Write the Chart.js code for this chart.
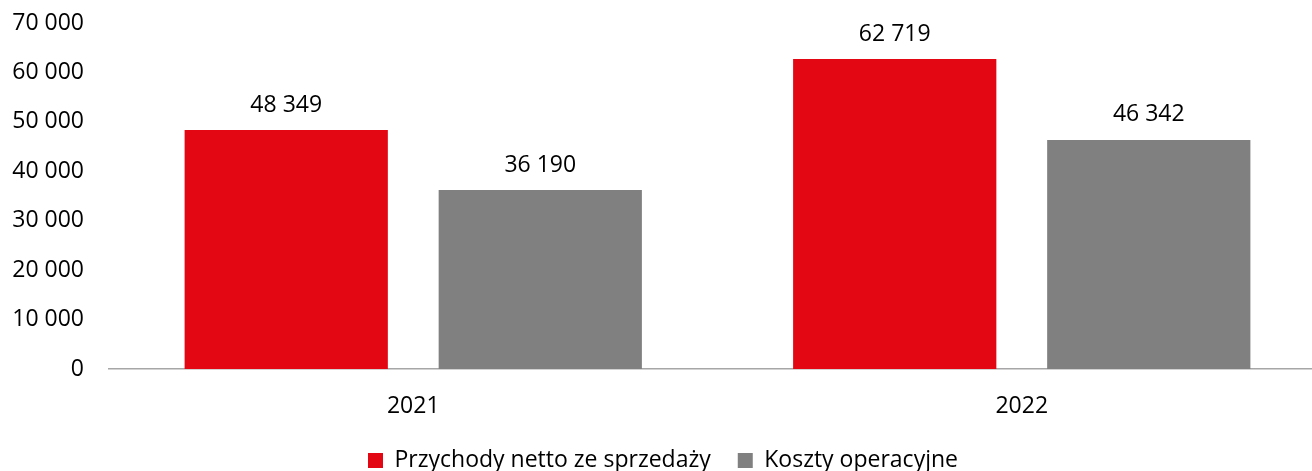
<!DOCTYPE html>
<html>
<head>
<meta charset="utf-8">
<script src="https://cdn.jsdelivr.net/npm/chart.js@4"></script>
<style>
  html, body { margin: 0; padding: 0; background: #fff; overflow: hidden; }
  #wrap { width: 1326px; height: 471px; }
</style>
</head>
<body>
<div id="wrap"><canvas id="myChart"></canvas></div>
<script>
const years = ['2021', '2022'];
const revenue = [48349, 62719];
const opCosts = [36190, 46342];
const yTicks = [0, 10000, 20000, 30000, 40000, 50000, 60000, 70000];

const fmt = v => String(v).replace(/\B(?=(\d{3})+(?!\d))/g, ' ');
const FONT = "'Open Sans', sans-serif";

// value labels above the bars
const barLabels = {
    id: 'barLabels',
    afterDatasetsDraw(chart) {
        const ctx = chart.ctx;
        ctx.save();
        ctx.font = '23px ' + FONT;
        ctx.fillStyle = '#000';
        ctx.textAlign = 'center';
        ctx.textBaseline = 'middle';
        chart.data.datasets.forEach((ds, i) => {
            chart.getDatasetMeta(i).data.forEach((bar, j) => {
                ctx.fillText(fmt(ds.data[j]), bar.x, bar.y - 25);
            });
        });
        ctx.restore();
    }
};

new Chart(document.getElementById('myChart'), {
    type: 'bar',
    data: {
        labels: years,
        datasets: [{
            label: 'Przychody netto ze sprzedaży',
            data: revenue,
            backgroundColor: '#E30613'
        }, {
            label: 'Koszty operacyjne',
            data: opCosts,
            backgroundColor: '#808080'
        }]
    },
    options: {
        responsive: true,
        maintainAspectRatio: false,
        animation: false,
        datasets: {
            bar: { categoryPercentage: 0.835, barPercentage: 0.8 }
        },
        layout: { padding: { top: 0, left: 0, right: 0, bottom: -11 } },
        scales: {
            x: {
                afterFit: axis => { axis.height = 53; },
                grid: { display: false, drawTicks: false },
                border: { color: '#A6A6A6', width: 1.5 },
                ticks: { color: '#000', font: { family: FONT, size: 23 }, padding: 24 }
            },
            y: {
                min: 0,
                max: 70000,
                afterBuildTicks: axis => { axis.ticks = yTicks.map(v => ({ value: v })); },
                afterFit: axis => {
                    axis.width = 109;
                    axis.paddingTop = 23;
                    axis.paddingBottom = 0;
                },
                grid: { display: false, drawTicks: false },
                border: { display: false },
                ticks: {
                    color: '#000',
                    font: { family: FONT, size: 23 },
                    padding: 25,
                    callback: v => fmt(v)
                }
            }
        },
        plugins: {
            legend: {
                position: 'bottom',
                labels: {
                    color: '#000',
                    font: { family: FONT, size: 23 },
                    boxWidth: 15,
                    boxHeight: 15,
                    padding: 27
                }
            },
            tooltip: { enabled: false }
        }
    },
    plugins: [barLabels]
});
</script>
</body>
</html>
